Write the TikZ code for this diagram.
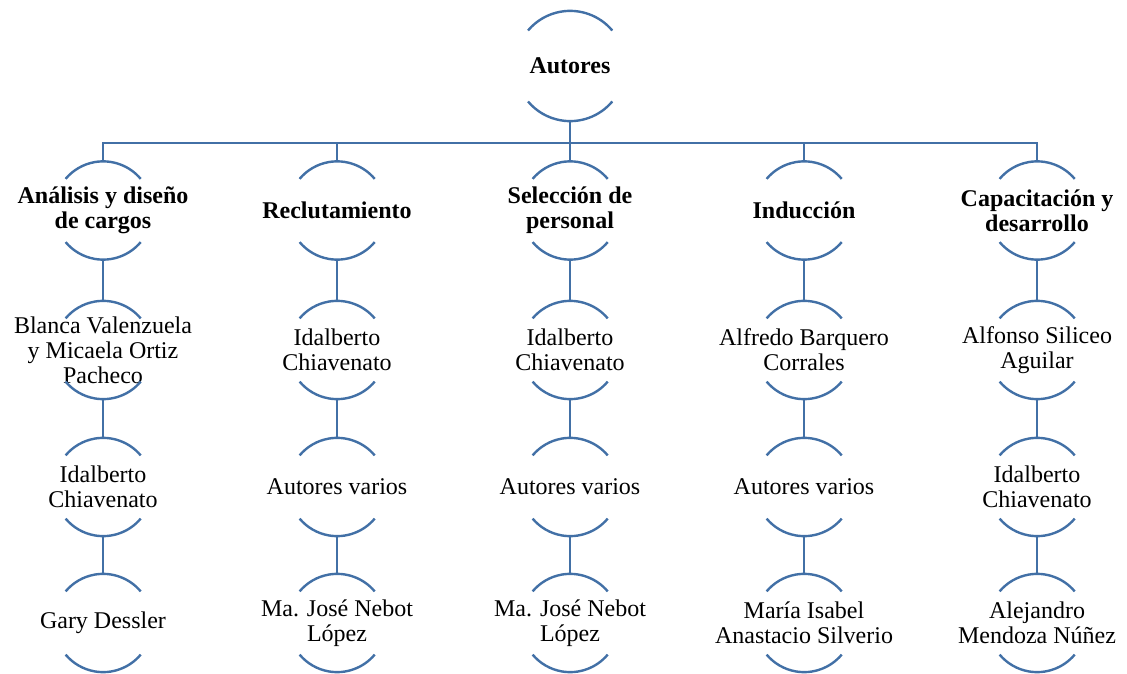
\documentclass[tikz,border=0pt]{standalone}
\usepackage{fontspec}
\setmainfont{Liberation Serif}
\definecolor{ringblue}{RGB}{66,112,166}
\begin{document}
\begin{tikzpicture}[x=1pt,y=1pt,
  ring/.style={circle, draw=none, inner sep=0pt, minimum size=98pt},
  bigring/.style={circle, draw=none, inner sep=0pt, minimum size=110pt},
  txt/.style={align=center, inner sep=0pt, font=\fontsize{24}{25}\selectfont},
  head/.style={txt, font=\fontsize{24}{25}\selectfont\bfseries},
  link/.style={draw=ringblue, line width=2.4pt}]
\useasboundingbox (0,0) rectangle (1127,673);

% root
\node[bigring, label={[head]center:Autores}] (top) at (570,607) {};

% first level: topics
\node[ring, label={[head]center:{Análisis y diseño\\de cargos}}] (c1) at (103,462.5) {};
\node[ring, label={[head]center:Reclutamiento}] (c2) at (337,462.5) {};
\node[ring, label={[head]center:{Selección de\\personal}}] (c3) at (570,462.5) {};
\node[ring, label={[head]center:Inducción}] (c4) at (804,462.5) {};
\node[ring, label={[head]center:{Capacitación y\\desarrollo}}] (c5) at (1037,462.5) {};

% second level
\node[ring, label={[txt]center:{Blanca Valenzuela\\y Micaela Ortiz\\Pacheco}}] (a1) at (103,323) {};
\node[ring, label={[txt]center:{Idalberto\\Chiavenato}}] (a2) at (337,323) {};
\node[ring, label={[txt]center:{Idalberto\\Chiavenato}}] (a3) at (570,323) {};
\node[ring, label={[txt]center:{Alfredo Barquero\\Corrales}}] (a4) at (804,323) {};
\node[ring, label={[txt]center:{Alfonso Siliceo\\Aguilar}}] (a5) at (1037,323) {};

% third level
\node[ring, label={[txt]center:{Idalberto\\Chiavenato}}] (b1) at (103,186) {};
\node[ring, label={[txt]center:Autores varios}] (b2) at (337,186) {};
\node[ring, label={[txt]center:Autores varios}] (b3) at (570,186) {};
\node[ring, label={[txt]center:Autores varios}] (b4) at (804,186) {};
\node[ring, label={[txt]center:{Idalberto\\Chiavenato}}] (b5) at (1037,186) {};

% fourth level
\node[ring, label={[txt]center:Gary Dessler}] (d1) at (103,50) {};
\node[ring, label={[txt]center:{Ma. José Nebot\\López}}] (d2) at (337,50) {};
\node[ring, label={[txt]center:{Ma. José Nebot\\López}}] (d3) at (570,50) {};
\node[ring, label={[txt]center:{María Isabel\\Anastacio Silverio}}] (d4) at (804,50) {};
\node[ring, label={[txt]center:{Alejandro\\Mendoza Núñez}}] (d5) at (1037,50) {};

% open circles: upper and lower arcs only
\draw[link] (top.40) arc[start angle=40, end angle=140, radius=55];
\draw[link] (top.-40) arc[start angle=-40, end angle=-140, radius=55];
\foreach \n in {c1,c2,c3,c4,c5,a1,a2,a3,a4,a5,b1,b2,b3,b4,b5,d1,d2,d3,d4,d5}{
  \draw[link] (\n.40) arc[start angle=40, end angle=140, radius=49];
  \draw[link] (\n.-40) arc[start angle=-40, end angle=-140, radius=49];
}

% connectors
\draw[link] (top.south) -- ++(0,-22) coordinate (bar);
\foreach \n in {c1,c2,c3,c4,c5}{
  \draw[link] (\n.north) |- (bar);
}
\foreach \i in {1,...,5}{
  \draw[link] (c\i.south) -- (a\i.north);
  \draw[link] (a\i.south) -- (b\i.north);
  \draw[link] (b\i.south) -- (d\i.north);
}
\end{tikzpicture}
\end{document}
